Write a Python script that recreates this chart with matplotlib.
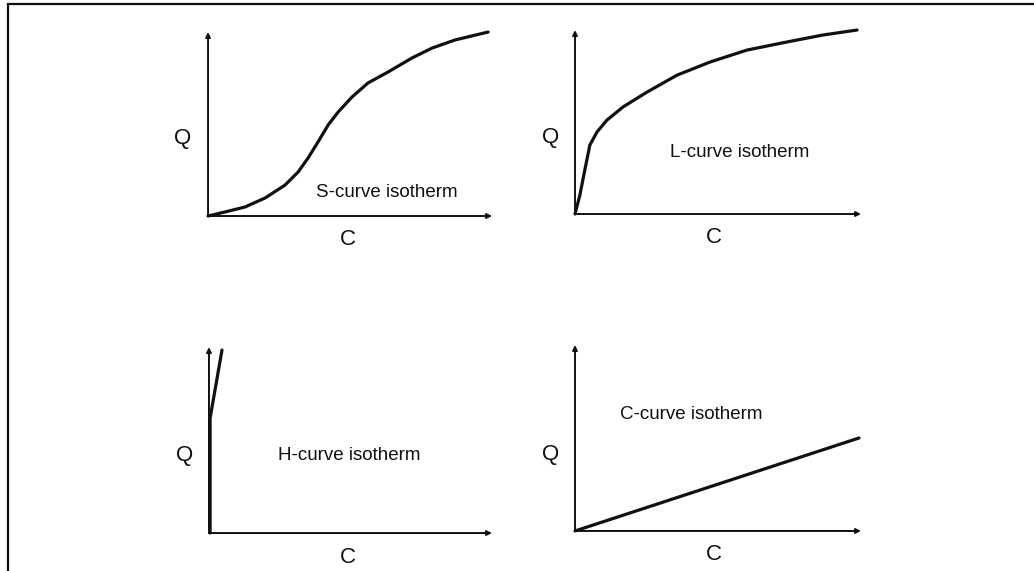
import matplotlib
matplotlib.use("Agg")
import matplotlib.pyplot as plt
from matplotlib.patches import Rectangle

plt.rcParams['font.family'] = ['Liberation Sans', 'DejaVu Sans']

# --------------------------------------------------
# curve shapes (C and Q scaled to 0..1)
# --------------------------------------------------
s_c = [0, 0.060, 0.130, 0.201, 0.271, 0.317, 0.352, 0.387, 0.423, 0.458,
       0.507, 0.563, 0.634, 0.718, 0.789, 0.870, 0.986]
s_q = [0, 0.022, 0.049, 0.098, 0.168, 0.239, 0.315, 0.402, 0.495, 0.565,
       0.647, 0.723, 0.783, 0.859, 0.913, 0.957, 1.0]

l_c = [0, 0.017, 0.035, 0.052, 0.077, 0.112, 0.168, 0.252, 0.357, 0.472,
       0.601, 0.741, 0.867, 0.986]
l_q = [0, 0.103, 0.245, 0.375, 0.446, 0.511, 0.582, 0.663, 0.755, 0.826,
       0.891, 0.935, 0.973, 1.0]

h_c = [0.004, 0.004, 0.046]
h_q = [0, 0.618, 0.984]

c_c = [0, 0.993]
c_q = [0, 0.5]

names = ["S-curve isotherm", "L-curve isotherm", "H-curve isotherm", "C-curve isotherm"]

# --------------------------------------------------
# layout: [left, bottom, width, height] in figure fraction, label spots
# --------------------------------------------------
panels = [
    dict(rect=[0.2012, 0.6217, 0.2747, 0.3222], c=s_c, q=s_q,
         text=(0.63, 0.13), qpos=(-0.088, 0.424), cpos=(0.493, -0.13)),
    dict(rect=[0.5561, 0.6252, 0.2766, 0.3222], c=l_c, q=l_q,
         text=(0.575, 0.337), qpos=(-0.087, 0.418), cpos=(0.486, -0.125)),
    dict(rect=[0.2021, 0.0665, 0.2737, 0.3257], c=h_c, q=h_q,
         text=(0.495, 0.419), qpos=(-0.085, 0.419), cpos=(0.491, -0.129)),
    dict(rect=[0.5561, 0.0701, 0.2766, 0.3257], c=c_c, q=c_q,
         text=(0.406, 0.624), qpos=(-0.087, 0.409), cpos=(0.486, -0.124)),
]

fig = plt.figure(figsize=(10.34, 5.71), dpi=100)

# outer frame (only left and top edges are inside the picture)
fig.patches.append(Rectangle((8 / 1034, -0.2), 1.2, 1.2 - 4 / 571,
                             transform=fig.transFigure, fill=False,
                             lw=1.6, edgecolor='#111111'))

for p, name in zip(panels, names):
    ax = fig.add_axes(p["rect"])
    ax.set_xlim(0, 1)
    ax.set_ylim(0, 1)
    ax.axis('off')
    ax.plot(p["c"], p["q"], color='#111111', lw=2.3, clip_on=False,
            solid_capstyle='round', solid_joinstyle='round')
    arrow = dict(arrowstyle='-|>', lw=1.4, color='#111111',
                 mutation_scale=7, shrinkA=0, shrinkB=0)
    ax.annotate('', xy=(1.0, 0), xytext=(0, 0), xycoords='axes fraction',
                arrowprops=arrow)
    ax.annotate('', xy=(0, 1.0), xytext=(0, 0), xycoords='axes fraction',
                arrowprops=arrow)
    ax.text(*p["text"], name, transform=ax.transAxes, fontsize=13.5,
            ha='center', va='center', color='#111111')
    ax.text(*p["qpos"], "Q", transform=ax.transAxes, fontsize=16,
            ha='center', va='center', color='#111111')
    ax.text(*p["cpos"], "C", transform=ax.transAxes, fontsize=16,
            ha='center', va='center', color='#111111')

plt.savefig("out.png", dpi=100, facecolor='white')
